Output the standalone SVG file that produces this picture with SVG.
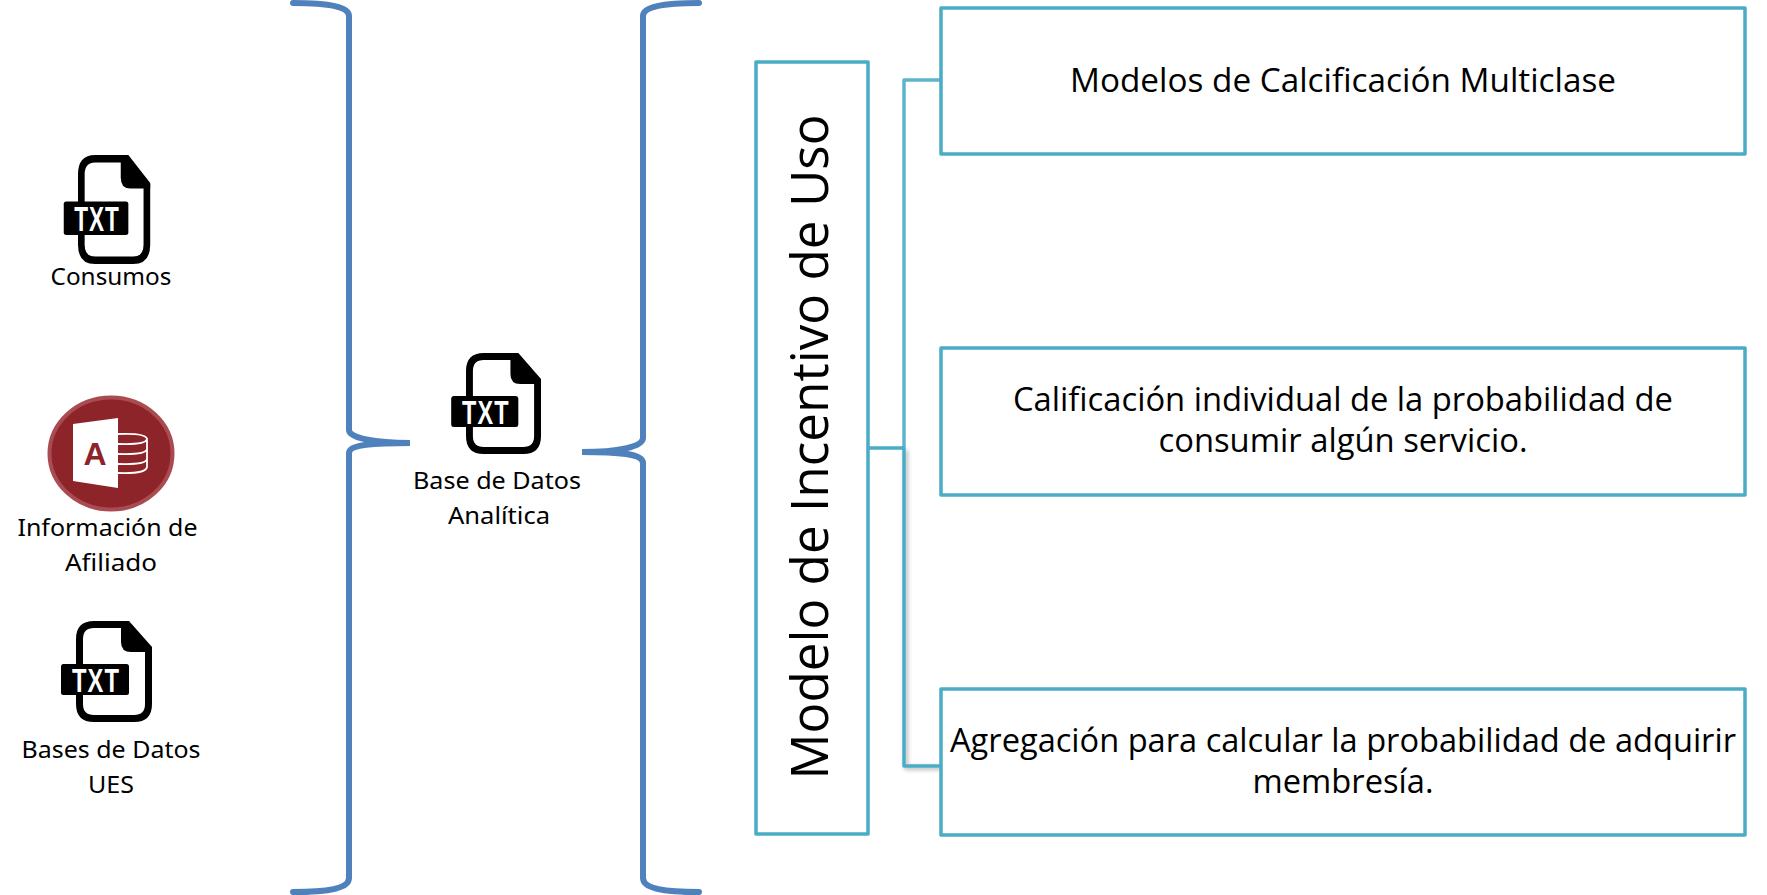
<svg xmlns="http://www.w3.org/2000/svg" xmlns:xlink="http://www.w3.org/1999/xlink" width="1767" height="895" viewBox="0 0 1767 895">
<style>
.box{fill:#fff;stroke:#4BACC6;stroke-width:3.5;stroke-linejoin:round}
.brace{fill:none;stroke:#4F81BD;stroke-width:6;stroke-linecap:round}
.conn{fill:none;stroke:#4BACC6;stroke-width:3.5;stroke-linejoin:round}
.lbl{font-family:"Noto Sans","Open Sans",sans-serif;font-size:24px;fill:#000;text-anchor:middle}
.main{font-family:"Open Sans","Noto Sans",sans-serif;font-size:33px;fill:#000;text-anchor:middle}
.txt{font-family:"Liberation Sans",sans-serif;font-weight:700;font-size:33px;fill:#fff;letter-spacing:1.5px}
</style>
<defs>
<filter id="sh" x="-20%" y="-5%" width="140%" height="110%"><feDropShadow dx="2" dy="2" stdDeviation="2" flood-color="#000" flood-opacity="0.3"/></filter>
<g id="doc">
<path d="M3.5 18 Q3.5 3.5 18 3.5 H50 L72.5 28 V83 Q72.5 97.5 58 97.5 H18 Q3.5 97.5 3.5 83 Z" fill="none" stroke="#000" stroke-width="7"/>
<path d="M45 0 H53 L76 26 V31 H55 Q45 31 45 21 Z" fill="#000"/>
<rect x="-15" y="43" width="68" height="31" rx="2.5" fill="#000"/>
</g>
</defs>
<g id="connectors">
<path class="conn" d="M868 448 H904"/>
<path class="conn" d="M904 448 V80 H941" stroke-opacity="0.9"/>
<path class="conn" d="M904 448 V766 H941" filter="url(#sh)"/>
</g>
<g id="brace-left"><path class="brace" d="M293 3 C330 3 349 7 349 16 V430 C349 438 375 443 410 443 C375 443 349 444 349 453 V878 C349 888 330 892 293 892"/></g>
<g id="brace-right"><path class="brace" d="M699 3 C662 3 643 7 643 16 V438 C643 447 617 452 582 452 C617 452 643 453 643 463 V878 C643 888 662 892 699 892"/></g>
<g id="consumos">
<g transform="translate(78,155) scale(.95,1.08)">
<use xlink:href="#doc" href="#doc"/>
<text class="txt" transform="translate(-4,70.5) scale(.72,1)">TXT</text>
</g>
<text x="111" y="285" class="lbl" textLength="121" lengthAdjust="spacingAndGlyphs">Consumos</text>
</g>
<g id="informacion">
<ellipse cx="111" cy="453.5" rx="61.5" ry="56" fill="#8C2429" stroke="#A94B50" stroke-width="4"/>
<path d="M73 424 L118 418 V488 L73 481 Z" fill="#fff"/>
<text x="95" y="465" style="font-family:'Liberation Sans',sans-serif;font-weight:700;font-size:32px;fill:#8C2429;text-anchor:middle">A</text>
<path d="M118 434 Q146 433 147 439 V467 Q146 474 118 473 M118 444 Q146 445 147 439 M118 454 Q146 455 147 449 M118 464 Q146 465 147 459" fill="none" stroke="#fff" stroke-width="1.8"/>
<text x="107.5" y="536" class="lbl" textLength="180" lengthAdjust="spacingAndGlyphs">Información de</text>
<text x="111" y="571" class="lbl" textLength="92" lengthAdjust="spacingAndGlyphs">Afiliado</text>
</g>
<g id="bases-ues">
<g transform="translate(76,621)">
<use xlink:href="#doc" href="#doc"/>
<text class="txt" transform="translate(-4,70.5) scale(.72,1)">TXT</text>
</g>
<text x="111" y="758" class="lbl" textLength="179" lengthAdjust="spacingAndGlyphs">Bases de Datos</text>
<text x="111" y="793" class="lbl" textLength="46" lengthAdjust="spacingAndGlyphs">UES</text>
</g>
<g id="base-analitica">
<g transform="translate(466,353) scale(.987,1)">
<use xlink:href="#doc" href="#doc"/>
<text class="txt" transform="translate(-4,70.5) scale(.72,1)">TXT</text>
</g>
<text x="497" y="489" class="lbl" textLength="168" lengthAdjust="spacingAndGlyphs">Base de Datos</text>
<text x="499" y="524" class="lbl" textLength="102" lengthAdjust="spacingAndGlyphs">Analítica</text>
</g>
<g id="modelo">
<rect class="box" x="756" y="62" width="112" height="772"/>
<text class="main" style="font-size:51px" transform="translate(828,447) rotate(-90)" textLength="665" lengthAdjust="spacingAndGlyphs">Modelo de Incentivo de Uso</text>
</g>
<g id="box1">
<rect class="box" x="941" y="8" width="804" height="146"/>
<text class="main" x="1343" y="92" textLength="546" lengthAdjust="spacingAndGlyphs">Modelos de Calcificación Multiclase</text>
</g>
<g id="box2">
<rect class="box" x="941" y="348" width="804" height="147"/>
<text class="main" x="1343" y="411" textLength="660" lengthAdjust="spacingAndGlyphs">Calificación individual de la probabilidad de</text>
<text class="main" x="1343" y="452" textLength="369" lengthAdjust="spacingAndGlyphs">consumir algún servicio.</text>
</g>
<g id="box3">
<rect class="box" x="941" y="689" width="804" height="146"/>
<text class="main" x="1343" y="752" textLength="786" lengthAdjust="spacingAndGlyphs">Agregación para calcular la probabilidad de adquirir</text>
<text class="main" x="1343" y="793" textLength="181" lengthAdjust="spacingAndGlyphs">membresía.</text>
</g>
</svg>
